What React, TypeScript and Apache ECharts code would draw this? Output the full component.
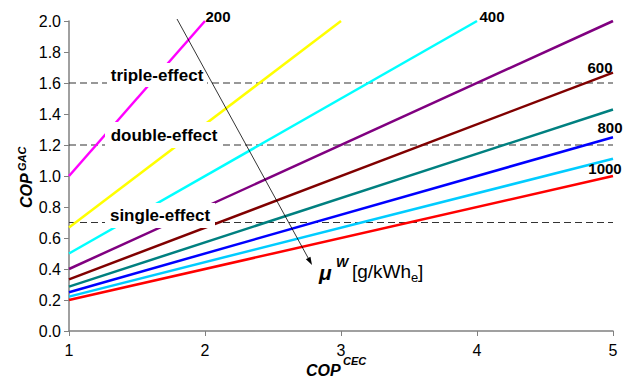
import React, { useEffect, useRef } from 'react';
import * as echarts from 'echarts';

// mu^W values [g/kWh_e] for each line
const muValues = [200, 300, 400, 500, 600, 700, 800, 900, 1000];
const lineColors = ['#FF00FF', '#FFFF00', '#00FFFF', '#800080', '#800000', '#008080', '#0000FF', '#00CCFF', '#FF0000'];
// line end points (COP_CEC, COP_GAC)
const startX = [1, 1, 1, 1, 1, 1, 1, 1, 1];
const startY = [1.0, 0.667, 0.5, 0.4, 0.333, 0.286, 0.25, 0.222, 0.2];
const endX = [2, 3, 4, 5, 5, 5, 5, 5, 5];
const endY = [2.0, 2.0, 2.0, 2.0, 1.667, 1.429, 1.25, 1.111, 1.0];

// absorption chiller COP levels
const effectLevels = [1.6, 1.2, 0.7];
const effectNames = ['triple-effect', 'double-effect', 'single-effect'];

// line labels
const lineLabels = ['200', '400', '600', '800', '1000'];

const FONT = "'Liberation Sans', Arial, sans-serif";

export default function App() {
  const ref = useRef<HTMLDivElement>(null);
  useEffect(() => {
    if (!ref.current) return;
    const chart = echarts.init(ref.current, null, { renderer: 'svg' });

    const lineSeries = muValues.map((mu, i) => ({
      name: String(mu),
      type: 'line',
      data: [[startX[i], startY[i]], [endX[i], endY[i]]],
      symbol: 'none',
      showSymbol: false,
      lineStyle: { color: lineColors[i], width: 2.5 },
      z: 3,
    }));

    const dashSeries = effectLevels.map((lv, i) => ({
      name: effectNames[i],
      type: 'line',
      data: [[1, lv], [5, lv]],
      symbol: 'none',
      showSymbol: false,
      lineStyle: { color: '#333333', width: 1.1, type: [7, 4] },
      z: 2,
    }));

    // annotation positions (pixels)
    const boxes = [
      { x: 107, y: 63, w: 100, h: 24, cx: 157, cy: 75 },
      { x: 105, y: 122, w: 118, h: 26, cx: 164, cy: 135 },
      { x: 105, y: 203, w: 110, h: 25, cx: 160, cy: 215 },
    ];
    const labelPos = [
      [218, 16],
      [492, 16],
      [600, 67],
      [610, 127],
      [605, 168],
    ];

    const graphics: any[] = [];
    boxes.forEach((b, i) => {
      graphics.push({
        type: 'rect',
        z: 100,
        shape: { x: b.x, y: b.y, width: b.w, height: b.h },
        style: { fill: '#fff' },
      });
      graphics.push({
        type: 'text',
        z: 101,
        x: b.cx,
        y: b.cy,
        style: {
          text: effectNames[i],
          font: `bold 17px ${FONT}`,
          fill: '#000',
          align: 'center',
          verticalAlign: 'middle',
        },
      });
    });
    lineLabels.forEach((t, i) => {
      graphics.push({
        type: 'text',
        z: 101,
        x: labelPos[i][0],
        y: labelPos[i][1],
        style: {
          text: t,
          font: `bold 15px ${FONT}`,
          fill: '#000',
          align: 'center',
          verticalAlign: 'middle',
        },
      });
    });

    // arrow
    const ax0 = 177, ay0 = 19, ax1 = 312, ay1 = 265;
    const dx = ax1 - ax0, dy = ay1 - ay0;
    const len = Math.sqrt(dx * dx + dy * dy);
    const ux = dx / len, uy = dy / len;
    const hl = 8, hw = 2.6;
    const bx = ax1 - ux * hl, by = ay1 - uy * hl;
    graphics.push({
      type: 'line',
      z: 102,
      shape: { x1: ax0, y1: ay0, x2: bx, y2: by },
      style: { stroke: '#000', lineWidth: 0.8 },
    });
    graphics.push({
      type: 'polygon',
      z: 102,
      shape: {
        points: [
          [ax1, ay1],
          [bx - uy * hw, by + ux * hw],
          [bx + uy * hw, by - ux * hw],
        ],
      },
      style: { fill: '#000' },
    });

    // mu^W [g/kWh_e]
    graphics.push({
      type: 'text', z: 102, x: 319, y: 272,
      style: { text: 'μ', font: `italic bold 21px ${FONT}`, fill: '#000', align: 'left', verticalAlign: 'middle' },
    });
    graphics.push({
      type: 'text', z: 102, x: 336, y: 262,
      style: { text: 'W', font: `italic bold 13px ${FONT}`, fill: '#000', align: 'left', verticalAlign: 'middle' },
    });
    graphics.push({
      type: 'text', z: 102, x: 352, y: 271,
      style: { text: '[g/kWh', font: `19px ${FONT}`, fill: '#000', align: 'left', verticalAlign: 'middle' },
    });
    graphics.push({
      type: 'text', z: 102, x: 411, y: 277,
      style: { text: 'e', font: `13px ${FONT}`, fill: '#000', align: 'left', verticalAlign: 'middle' },
    });
    graphics.push({
      type: 'text', z: 102, x: 418, y: 271,
      style: { text: ']', font: `19px ${FONT}`, fill: '#000', align: 'left', verticalAlign: 'middle' },
    });

    // x axis title COP^CEC
    graphics.push({
      type: 'text', z: 102, x: 306, y: 370,
      style: { text: 'COP', font: `italic bold 16px ${FONT}`, fill: '#000', align: 'left', verticalAlign: 'middle' },
    });
    graphics.push({
      type: 'text', z: 102, x: 343, y: 361,
      style: { text: 'CEC', font: `italic bold 11px ${FONT}`, fill: '#000', align: 'left', verticalAlign: 'middle' },
    });
    // y axis title COP^GAC (rotated)
    graphics.push({
      type: 'text', z: 102, x: 26, y: 208, rotation: Math.PI / 2,
      style: { text: 'COP', font: `italic bold 16px ${FONT}`, fill: '#000', align: 'left', verticalAlign: 'middle' },
    });
    graphics.push({
      type: 'text', z: 102, x: 22, y: 171, rotation: Math.PI / 2,
      style: { text: 'GAC', font: `italic bold 11px ${FONT}`, fill: '#000', align: 'left', verticalAlign: 'middle' },
    });

    chart.setOption({
      animation: false,
      backgroundColor: '#fff',
      grid: { left: 69, right: 19, top: 21, bottom: 47, containLabel: false },
      xAxis: {
        type: 'value',
        min: 1,
        max: 5,
        interval: 1,
        splitLine: { show: false },
        axisLine: { show: true, lineStyle: { color: '#808080', width: 1.5 } },
        axisTick: { show: true, inside: false, length: 5, lineStyle: { color: '#808080' } },
        axisLabel: { color: '#000', fontSize: 16, fontFamily: FONT, margin: 11 },
      },
      yAxis: {
        type: 'value',
        min: 0,
        max: 2,
        interval: 0.2,
        splitLine: { show: false },
        axisLine: { show: true, onZero: false, lineStyle: { color: '#808080', width: 1.5 } },
        axisTick: { show: true, inside: false, length: 5, lineStyle: { color: '#808080' } },
        axisLabel: {
          color: '#000',
          fontSize: 16,
          fontFamily: FONT,
          margin: 8,
          formatter: (v: number) => v.toFixed(1),
        },
      },
      series: [...dashSeries, ...lineSeries],
      graphic: graphics,
    });

    return () => chart.dispose();
  }, []);

  return (
    <div
      ref={ref}
      style={{ position: 'fixed', left: 0, top: 0, width: 632, height: 378, background: '#fff' }}
    />
  );
}
